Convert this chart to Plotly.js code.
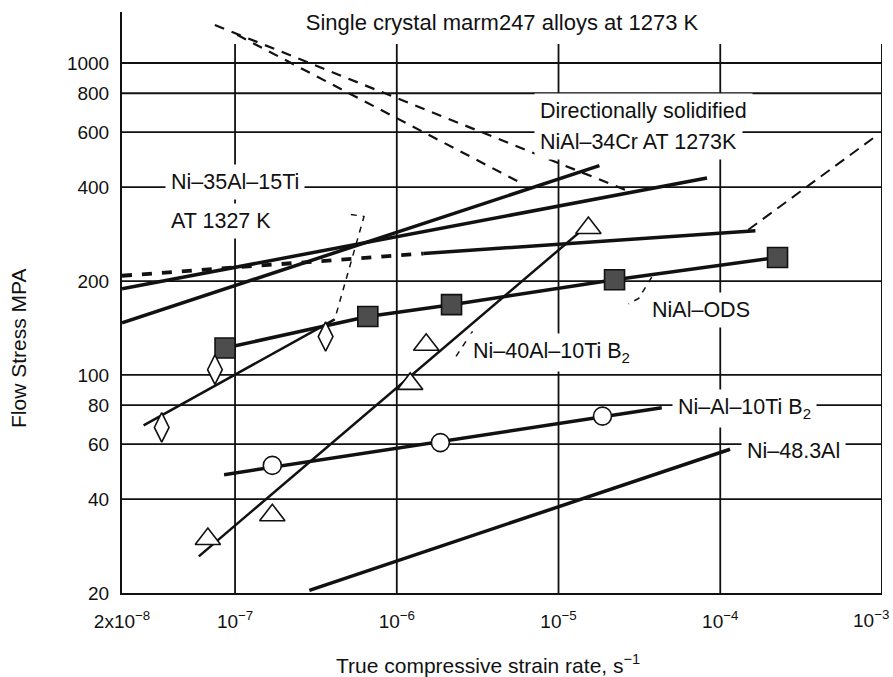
<!DOCTYPE html>
<html>
<head>
<meta charset="utf-8">
<script src="https://cdn.plot.ly/plotly-3.0.1.min.js"></script>
<style>html,body{margin:0;padding:0;background:#fff;}#chart{width:893px;height:677px;}</style>
</head>
<body>
<div id="chart"></div>
<script>
// ---------- axes / grid ----------
const xTickVals = [2e-8, 1e-7, 1e-6, 1e-5, 1e-4, 1e-3];
const xTickText = ['2x10<sup>−8</sup>', '10<sup>−7</sup>', '10<sup>−6</sup>', '10<sup>−5</sup>', '10<sup>−4</sup>', '10<sup>−3</sup>'];
const yTickVals = [20, 40, 60, 80, 100, 200, 400, 600, 800, 1000];
const yTickText = ['20', '40', '60', '80', '100', '200', '400', '600', '800', '1000'];
const yGridValues = [40, 60, 80, 100, 200, 400, 600, 800, 1000];
const xGridValues = [1e-7, 1e-6, 1e-5, 1e-4];
const xMin = 2e-8, xMax = 1e-3, yMin = 20, yTopLog = 3.1635;
const gridTop = 1150;
const xTitle = 'True compressive strain rate, s<sup>−1</sup>';
const yTitle = 'Flow Stress MPA';
const chartTitle = 'Single crystal marm247 alloys at 1273 K';

// ---------- series (strain rate s^-1, flow stress MPa) ----------
// single crystal marm247 (dashed)
const marmUpperX = [7.5e-8, 2.75e-5];
const marmUpperY = [1324, 387];
const marmLowerX = [1.03e-7, 5.93e-6];
const marmLowerY = [1231, 411];
// dashed rising branch at right
const riseX = [1.49e-4, 8.8e-4];
const riseY = [292, 574];
// directionally solidified NiAl-34Cr lines
const ds1X = [2e-8, 1.79e-5];
const ds1Y = [147, 469];
const ds2X = [2e-8, 8.28e-5];
const ds2Y = [189, 428];
// Ni-35Al-15Ti at 1327 K (dashed part, then solid)
const ni35DashX = [2e-8, 1.46e-6];
const ni35DashY = [208, 245];
const ni35SolidX = [1.46e-6, 1.65e-4];
const ni35SolidY = [245, 290];
// NiAl-ODS (filled squares)
const odsX = [8.67e-8, 6.62e-7, 2.18e-6, 2.22e-5, 2.26e-4];
const odsY = [122, 154, 168, 202, 238];
// diamonds
const diaLineX = [2.72e-8, 4.13e-7];
const diaLineY = [68.9, 150.7];
const diaX = [3.52e-8, 7.51e-8, 3.63e-7];
const diaY = [67.9, 104, 132.8];
// Ni-40Al-10Ti B2 (triangles)
const triLineX = [5.97e-8, 1.55e-5];
const triLineY = [26.2, 305];
const triX = [6.79e-8, 1.70e-7, 1.21e-6, 1.52e-6, 1.53e-5];
const triY = [29.8, 35.5, 93.6, 125, 296];
// Ni-Al-10Ti B2 (circles)
const cirLineX = [8.55e-8, 4.35e-5];
const cirLineY = [47.9, 78.5];
const cirX = [1.70e-7, 1.86e-6, 1.87e-5];
const cirY = [51.3, 60.7, 73.8];
// Ni-48.3Al
const ni48X = [2.88e-7, 1.15e-4];
const ni48Y = [20.4, 57.8];
// leader lines
const diaLeaderX = [5.2e-7, 6.27e-7, 4.13e-7];
const diaLeaderY = [327, 322, 150.7];
const odsLeaderX = [3.77e-5, 3.13e-5, 2.71e-5];
const odsLeaderY = [206, 176, 169];
const ni40LeaderX = [2.94e-6, 2.28e-6];
const ni40LeaderY = [138, 113];

// ---------- labels ----------
const labelText = ['Ni–35Al–15Ti', 'AT 1327 K', 'Directionally solidified', 'NiAl–34Cr AT 1273K',
  'NiAl–ODS', 'Ni–40Al–10Ti B<sub>2</sub>', 'Ni–Al–10Ti B<sub>2</sub>', 'Ni–48.3Al'];
const labelX = [3.70e-8, 3.70e-8, 7.1e-6, 7.1e-6, 3.45e-5, 2.73e-6, 5.0e-5, 1.35e-4];
const labelY = [416, 312.6, 701, 557, 162, 118, 78.2, 57.0];

const INK = '#111';
const FONT = '"Liberation Sans", Arial, Helvetica, sans-serif';

function line(x, y, w, dash) {
  return {x: x, y: y, type: 'scatter', mode: 'lines', hoverinfo: 'skip',
    line: {color: INK, width: w, dash: dash || 'solid'}};
}
function marks(x, y, symbol, size, fill) {
  return {x: x, y: y, type: 'scatter', mode: 'markers', hoverinfo: 'skip',
    marker: {symbol: symbol, size: size, color: fill, line: {color: INK, width: 1.6}}};
}

const traces = [
  line(marmUpperX, marmUpperY, 2.2, '10px,8px'),
  line(marmLowerX, marmLowerY, 2.2, '10px,8px'),
  line(riseX, riseY, 2, '11px,7px'),
  line(ds1X, ds1Y, 3.5),
  line(ds2X, ds2Y, 3.5),
  line(ni35DashX, ni35DashY, 3.8, '10px,10px'),
  line(ni35SolidX, ni35SolidY, 3.5),
  line(diaLeaderX, diaLeaderY, 1.5, '6px,6px'),
  line(odsLeaderX, odsLeaderY, 1.5, '6px,6px'),
  line(ni40LeaderX, ni40LeaderY, 1.5, '6px,6px'),
  line(odsX, odsY, 3.5),
  line(diaLineX, diaLineY, 2.5),
  line(triLineX, triLineY, 2.5),
  line(cirLineX, cirLineY, 3.5),
  line(ni48X, ni48Y, 3.5),
  marks(odsX, odsY, 'square', 20, '#4d4d4d'),
  marks(diaX, diaY, 'diamond-tall', 21, '#ffffff'),
  marks(triX, triY, 'triangle-up', 22, '#ffffff'),
  marks(cirX, cirY, 'circle', 18, '#ffffff')
];

const shapes = [];
yGridValues.forEach(v => shapes.push({type: 'line', xref: 'x', yref: 'y', x0: xMin, x1: xMax, y0: v, y1: v,
  layer: 'below', line: {color: INK, width: 1.8}}));
xGridValues.forEach(v => shapes.push({type: 'line', xref: 'x', yref: 'y', x0: v, x1: v, y0: yMin, y1: gridTop,
  layer: 'below', line: {color: INK, width: 1.8}}));
shapes.push({type: 'line', xref: 'x', yref: 'y', x0: xMax, x1: xMax, y0: yMin, y1: gridTop,
  layer: 'below', line: {color: INK, width: 2}});

const annotations = labelText.map((t, i) => ({
  text: t, x: Math.log10(labelX[i]), y: Math.log10(labelY[i]), xref: 'x', yref: 'y',
  xanchor: 'left', yanchor: 'middle', showarrow: false, bgcolor: '#ffffff', borderpad: 5,
  font: {family: FONT, size: 21.5, color: INK}
}));
// axis titles placed as annotations for exact positioning
annotations.push({text: xTitle, xref: 'paper', yref: 'paper', x: (488 - 122) / 760, y: (593 - 664) / 581,
  xanchor: 'center', yanchor: 'middle', showarrow: false, font: {family: FONT, size: 21, color: INK}});
annotations.push({text: yTitle, xref: 'paper', yref: 'paper', x: (19 - 122) / 760, y: (593 - 349) / 581,
  xanchor: 'center', yanchor: 'middle', textangle: -90, showarrow: false,
  font: {family: FONT, size: 21, color: INK}});
// last x tick label kept inside the page edge (the scan cuts it off)
const lastTick = xTickVals.length - 1;
annotations.push({text: xTickText[lastTick], xref: 'x', yref: 'paper', x: Math.log10(xTickVals[lastTick]),
  y: (593 - 619) / 581, xanchor: 'right', yanchor: 'middle', xshift: 9, showarrow: false,
  font: {family: FONT, size: 19, color: INK}});
const shownTickText = xTickText.map((t, i) => (i === lastTick ? '' : t));

const layout = {
  width: 893, height: 677,
  margin: {l: 122, r: 11, t: 12, b: 84},
  paper_bgcolor: '#ffffff', plot_bgcolor: '#ffffff',
  showlegend: false,
  font: {family: FONT, color: INK},
  title: {text: chartTitle, x: 502 / 893, y: 1 - 22 / 677,
    xanchor: 'center', yanchor: 'middle', font: {family: FONT, size: 22, color: INK}},
  xaxis: {type: 'log', range: [Math.log10(xMin), Math.log10(xMax)], tickvals: xTickVals, ticktext: shownTickText,
    showgrid: false, zeroline: false, showline: true, linecolor: INK, linewidth: 2, ticks: '',
    ticklabelstandoff: 10, tickfont: {family: FONT, size: 19, color: INK}},
  yaxis: {type: 'log', range: [Math.log10(yMin), yTopLog], tickvals: yTickVals, ticktext: yTickText,
    showgrid: false, zeroline: false, showline: true, linecolor: INK, linewidth: 2, ticks: '',
    ticklabelstandoff: 7, tickfont: {family: FONT, size: 19, color: INK}},
  shapes: shapes,
  annotations: annotations
};

Plotly.newPlot('chart', traces, layout, {staticPlot: true, displayModeBar: false});
</script>
</body>
</html>
